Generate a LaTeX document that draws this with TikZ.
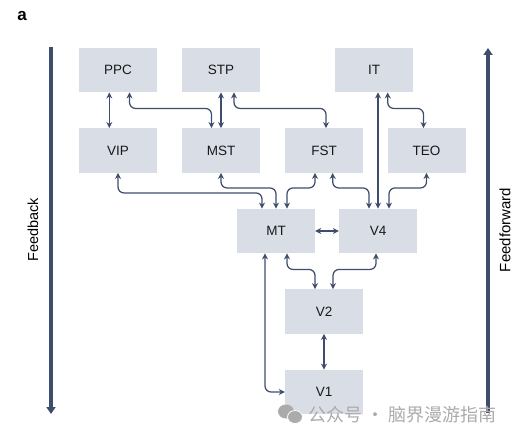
\documentclass[tikz,border=0pt]{standalone}
\usepackage{fontspec}
\setmainfont{Liberation Sans}
\newfontfamily\cjkwm{Noto Sans CJK SC}
\usetikzlibrary{arrows.meta,positioning,calc}
\definecolor{boxfill}{HTML}{D9DDE6}
\definecolor{linec}{HTML}{3F4D6C}
\definecolor{wm}{HTML}{ABABAB}
\tikzset{
  area/.style={fill=boxfill,minimum width=78pt,minimum height=44.5pt,inner sep=0pt,font=\fontsize{13.5}{15}\selectfont,text=black!90},
  link/.style={draw=linec,line width=1.25pt,rounded corners=6pt,{Stealth[length=6pt,width=6pt]}-{Stealth[length=6pt,width=6pt]}},
  oneway/.style={draw=linec,line width=4pt,-{Stealth[length=7pt,width=9pt,inset=0pt]}},
  sidelabel/.style={rotate=90,text=black}
}
\begin{document}
\begin{tikzpicture}[x=1pt,y=-1pt]
\useasboundingbox (0,0) rectangle (518,441);
\node[area] (ppc) at (118,70) {PPC};
\node[area] (stp) at (221,70) {STP};
\node[area] (it)  at (374,70) {IT};
\node[area] (vip) at (118,150.5) {VIP};
\node[area] (mst) at (221,150.5) {MST};
\node[area] (fst) at (324,150.5) {FST};
\node[area] (teo) at (426.5,150.5) {TEO};
\node[area] (mt)  at (276,231) {MT\hspace{3pt}};
\node[area] (v4)  at (378,231) {V4\hspace{2pt}};
\node[area] (v2)  at (324,311.5) {V2\hspace{2pt}};
\node[area] (v1)  at (324,392) {V1\hspace{2pt}};

\node[font=\bfseries\fontsize{17}{19}\selectfont] (lbl) at (22,16) {a};
\coordinate (fbtop) at (51,47);
\coordinate (fbbot) at (51,414);
\coordinate (fftop) at (488,48);
\coordinate (ffbot) at (488,413);
\draw[oneway] (fbtop) -- (fbbot);
\draw[oneway] (ffbot) -- (fftop);
\node[sidelabel,font=\fontsize{14.5}{16}\selectfont] (fb) at (33,230) {Feedback};
\node[sidelabel,font=\fontsize{15}{17}\selectfont] (ff) at (505,230) {Feedforward};

\draw[link] ([xshift=-8.7pt]ppc.south) -- ([xshift=-8.7pt]vip.north);
\draw[link] ([xshift=11.5pt]ppc.south) -- ++(0,16) -| ([xshift=-9.5pt]mst.north);
\draw[link] (stp.south) -- (mst.north);
\draw[link] ([xshift=13pt]stp.south) -- ++(0,16) -| ([xshift=2pt]fst.north);
\draw[link] ([xshift=4pt]it.south) -- (v4.north);
\draw[link] ([xshift=13.7pt]it.south) -- ++(0,16) -| ([xshift=-3pt]teo.north);
\draw[link] ([xshift=-9pt]fst.south) -- ++(0,15) -| ([xshift=11pt]mt.north);
\draw[link] ([xshift=8.7pt]fst.south) -- ++(0,15) -| ([xshift=-9pt]v4.north);
\draw[link] (teo.south) -- ++(0,15) -| ([xshift=11pt]v4.north);
\draw[link] (vip.south) -- ++(0,20) -| ([xshift=-14pt]mt.north);
\draw[link] (mst.south) -- ++(0,15) -| (mt.north);
\draw[link] ([xshift=11pt]mt.south) -- ++(0,16) -| ([xshift=-9pt]v2.north);
\draw[link] ([xshift=-2pt]v4.south) -- ++(0,16) -| ([xshift=9pt]v2.north);
\draw[link] (mt.east) -- (v4.west);
\draw[link] (v2.south) -- (v1.north);
\draw[link] ([xshift=-11pt]mt.south) |- (v1.west);

% watermark
\fill[wm] (286,411.5) ellipse (8pt and 7pt);
\fill[wm,draw=white,line width=0.8pt] (295,417) ellipse (7.5pt and 6.5pt);
\node[anchor=west,inner sep=0pt,text=wm,font=\cjkwm\fontsize{18}{20}\selectfont] (wmtext) at (308,414.5) {公众号 · 脑界漫游指南};
\end{tikzpicture}
\end{document}
